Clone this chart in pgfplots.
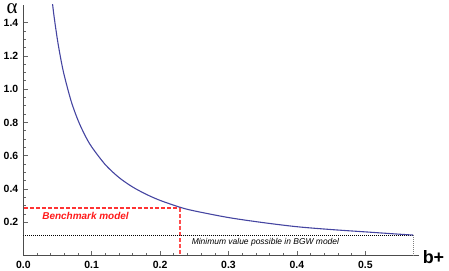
\documentclass[border=0pt]{standalone}
\usepackage{pgfplots}
\pgfplotsset{compat=1.18}
\usetikzlibrary{calc}
\usepackage{fontspec}
\setmainfont{Liberation Sans}
\newfontfamily\seriffont{Liberation Serif}
\definecolor{curvecol}{rgb}{0.27,0.27,0.63}
\definecolor{benchred}{rgb}{1,0.3,0.3}
\definecolor{benchtext}{rgb}{1,0.1,0.1}
\begin{document}
\begin{tikzpicture}
\begin{axis}[
 scale only axis, width=395.7bp, height=250.7bp,
 xmin=0, xmax=0.5785, ymin=0, ymax=1.505,
 axis lines=left, axis line style={-, draw=black!70, line width=0.8pt},
 xtick={0,0.1,0.2,0.3,0.4,0.5}, ytick={0.2,0.4,0.6,0.8,1.0,1.2,1.4},
 minor x tick num=4, minor y tick num=3,
 tick align=inside, major tick length=5bp, minor tick length=3bp,
 tick style={black!60, line width=0.6pt},
 /pgf/number format/assume math mode=true,
 /pgf/number format/.cd, fixed, fixed zerofill, precision=1, /pgfplots/.cd,
 ticklabel style={font=\bfseries\fontsize{10.5}{11}\selectfont},
 xticklabel style={yshift=-2bp},
 yticklabel style={xshift=-1.5bp},
 clip=true,
]
\addplot[draw=red!80!white, line width=1.5pt, dash pattern=on 4pt off 2pt] coordinates {(0.001,0.2875) (0.229,0.2875)};
\addplot[draw=benchred, line width=1.2pt, dash pattern=on 4pt off 2pt] coordinates {(0.229,0.288) (0.229,0)};
\addplot[draw=black, line width=0.5pt, dash pattern=on 0.6pt off 1.4pt] coordinates {(0,0.122) (0.570,0.122)};
\addplot[draw=black!50, line width=0.5pt, dash pattern=on 0.6pt off 1.4pt] coordinates {(0.570,0.122) (0.570,0)};
\addplot[draw=curvecol, line width=1.1pt, smooth] coordinates {
(0.042,1.538) (0.045,1.436) (0.05,1.294) (0.055,1.177) (0.06,1.080) (0.07,0.927)
(0.08,0.813) (0.09,0.724) (0.10,0.653) (0.12,0.546) (0.14,0.469) (0.16,0.412)
(0.18,0.368) (0.20,0.332) (0.229,0.291) (0.25,0.269) (0.30,0.229) (0.35,0.199)
(0.40,0.174) (0.45,0.157) (0.50,0.143) (0.55,0.129) (0.570,0.124)};
\node[text=benchtext, anchor=center, font=\bfseries\itshape\fontsize{10}{10}\selectfont] at (axis cs:0.091,0.238) {Benchmark model};
\node[text=black, anchor=west, inner sep=0pt, font=\itshape\fontsize{8.5}{9}\selectfont] at (axis cs:0.246,0.078) {Minimum value possible in BGW model};
\coordinate (O) at (rel axis cs:0,0);
\end{axis}
\node[anchor=base, inner sep=0pt, font=\seriffont\fontsize{21}{21}\selectfont] at ($(O)+(-11.3bp,242bp)$) {α};
\node[anchor=base, inner sep=0pt, font=\bfseries\fontsize{18}{18}\selectfont] at ($(O)+(410.2bp,-7.3bp)$) {b+};
\pgfresetboundingbox
\path (O) ++(-23.3bp,-15.3bp) rectangle ++(449bp,271bp);
\end{tikzpicture}
\end{document}
